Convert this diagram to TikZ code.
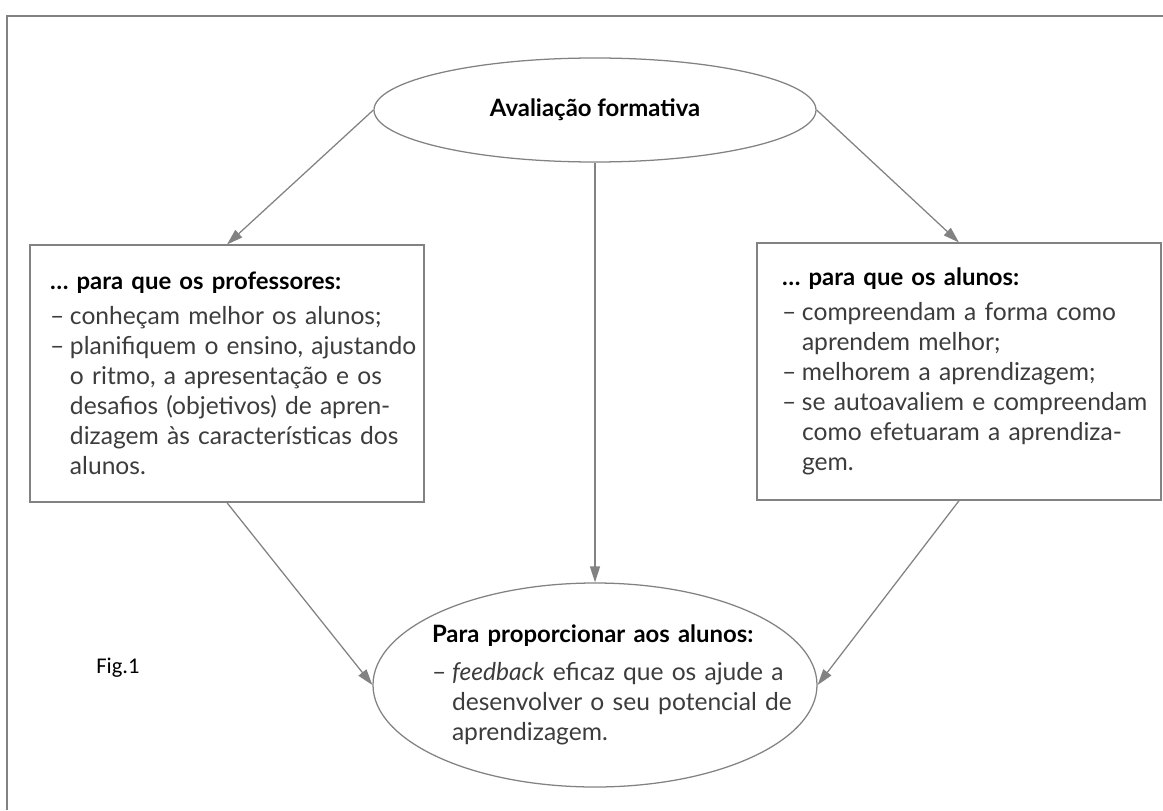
\documentclass[tikz,border=0pt]{standalone}
\usepackage{fontspec}
\setmainfont{Lato}
\newfontfamily\figfont{Carlito}
\usepackage{xcolor}
\usetikzlibrary{shapes.geometric, arrows.meta, positioning}
\definecolor{linegray}{RGB}{130,130,130}
\definecolor{txtgray}{RGB}{60,60,60}
\newlength{\dashw}
\setlength{\dashw}{0.5cm}
\newcommand{\itm}[1]{\makebox[\dashw][l]{--}#1}
\newcommand{\cnt}[1]{\hspace*{\dashw}#1}
\newcommand{\just}[1]{\makebox[\dimexpr\hsize-\dashw\relax][s]{#1}}
\newcommand{\head}[1]{{\fontsize{17}{21.3}\selectfont\bfseries\color{black}#1}}
\tikzset{ell/.style={ellipse, draw=linegray, line width=0.9pt, inner sep=0pt},
    body/.style={font=\fontsize{17.5}{21.3}\selectfont, text=txtgray, align=left},
    txtbox/.style={rectangle, draw=linegray, line width=0.9pt, body, minimum height=6.425cm, text width=8.85cm},
    arr/.style={draw=linegray, line width=0.9pt, -{Triangle[length=0.4cm,width=0.25cm]}}}
\begin{document}
\begin{tikzpicture}
            \useasboundingbox (0,0) rectangle (29.075,20.25);
            \draw[linegray, line width=0.9pt](0.175,0)--(0.175,19.85)--(29.075,19.85);
            \node[ell, minimum width=11.05cm, minimum height=2.6cm, font=\fontsize{17}{20}\selectfont\bfseries] (eval) at (14.875,17.5) {Avaliação formativa};
            \node[txtbox, inner xsep=0.5cm] (profs) at (5.675,10.91) {%
                \head{… para que os professores:}\\[3.5pt]
                \itm{conheçam melhor os alunos;}\\
                \itm{\just{planifiquem o ensino, ajustando}}\\
                \cnt{\just{o ritmo, a apresentação e os}}\\
                \cnt{\just{desafios (objetivos) de apren-}}\\
                \cnt{\just{dizagem às características dos}}\\
                \cnt{alunos.}};
            \node[txtbox, inner xsep=0.625cm] (alunos) at (23.975,10.96) {%
                \head{… para que os alunos:}\\[3.5pt]
                \itm{\just{compreendam a forma como}}\\
                \cnt{aprendem melhor;}\\
                \itm{melhorem a aprendizagem;}\\
                \itm{\just{se autoavaliem e compreendam}}\\
                \cnt{\just{como efetuaram a aprendiza-}}\\
                \cnt{gem.}};
            \node[ell, minimum width=11.1cm, minimum height=5.1cm] (fb) at (14.875,3.125) {};
            \node[body, text width=8.65cm, inner sep=0pt] (fbtxt) at ([xshift=0.25cm]fb.center) {%
                \head{Para proporcionar aos alunos:}\\[6pt]
                \itm{\just{\textit{feedback} eficaz que os ajude a}}\\
                \cnt{\just{desenvolver o seu potencial de}}\\
                \cnt{aprendizagem.}};
            \node[font=\figfont\fontsize{16}{19}\selectfont] (fig) at (2.95,3.55) {Fig.1};
            \draw[arr](eval.west)--(profs.north);
            \draw[arr](eval.east)--(alunos.north);
            \draw[arr](eval.south)--(fb.north);
            \draw[arr](profs.south)--(fb.west);
            \draw[arr](alunos.south)--(fb.east);
\end{tikzpicture}
\end{document}
